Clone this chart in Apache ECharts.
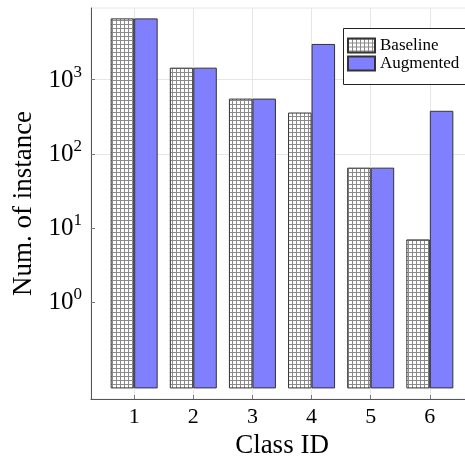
<!DOCTYPE html>
<html><head><meta charset="utf-8">
<script src="https://cdn.jsdelivr.net/npm/echarts@6/dist/echarts.min.js"></script>
<style>html,body{margin:0;padding:0;background:#fff}#c{width:465px;height:457px}</style>
</head><body><div id="c"></div>
<script>
const classIds = [1, 2, 3, 4, 5, 6];
const baselineCounts = [6700, 1450, 555, 360, 65, 7];
const augmentedCounts = [6700, 1450, 555, 3030, 65, 380];
const seriesNames = ['Baseline', 'Augmented'];
const yTickExponents = [0, 1, 2, 3];
const yTickValues = [1, 10, 100, 1000];
const barFloor = 0.0685;
const yRange = [0.0493, 9250];
const xRange = [0.27, 6.73];

const pat = document.createElement('canvas');
pat.width = 4; pat.height = 4;
const g = pat.getContext('2d');
g.fillStyle = '#fff'; g.fillRect(0, 0, 4, 4);
g.fillStyle = '#8a8a8a'; g.fillRect(0, 0, 4, 1); g.fillRect(0, 0, 1, 4);

const serif = 'Liberation Serif';
const chart = echarts.init(document.getElementById('c'), null, {renderer: 'canvas'});
chart.setOption({
  animation: false,
  backgroundColor: '#fff',
  grid: {left: 91, top: 8, width: 382, bottom: 58, outerBoundsMode: 'none', containLabel: false,
         show: true, borderColor: '#e6e6e6', borderWidth: 1},
  graphic: [{
    type: 'rect', left: 343, top: 28, z: 3, silent: true,
    shape: {width: 160, height: 56},
    style: {fill: '#fff', stroke: '#222', lineWidth: 1}
  }],
  legend: {
    orient: 'vertical', left: 343, top: 28, icon: 'rect', itemWidth: 27, itemHeight: 14, itemGap: 1,
    padding: [9, 4, 11, 4], z: 4,
    selectedMode: false,
    textStyle: {fontFamily: serif, fontSize: 17, color: '#000', lineHeight: 17},
    data: seriesNames
  },
  xAxis: {
    type: 'value', min: xRange[0], max: xRange[1],
    name: 'Class ID', nameLocation: 'middle', nameGap: 27,
    nameTextStyle: {fontFamily: serif, fontSize: 27, color: '#000'},
    axisLine: {show: true, lineStyle: {color: '#555', width: 1}},
    axisTick: {show: true, inside: true, length: 4, lineStyle: {color: '#777'}},
    axisLabel: {
      margin: 7, fontFamily: serif, fontSize: 22, color: '#000', showMinLabel: false, showMaxLabel: false,
      formatter: function (v) { return classIds.indexOf(v) >= 0 ? String(v) : ''; }
    },
    splitLine: {show: true, lineStyle: {color: '#e6e6e6', width: 1}}
  },
  yAxis: {
    type: 'log', logBase: 10, min: yRange[0], max: yRange[1], startValue: barFloor,
    name: 'Num. of instance', nameLocation: 'middle', nameGap: 49,
    nameTextStyle: {fontFamily: serif, fontSize: 27, color: '#000'},
    axisLine: {show: true, lineStyle: {color: '#555', width: 1}},
    axisTick: {show: true, inside: true, length: 4, customValues: yTickValues, lineStyle: {color: '#777'}},
    axisLabel: {
      margin: 9, color: '#000',
      formatter: function (v) {
        const e = Math.log10(v), r = Math.round(e);
        if (Math.abs(e - r) < 1e-6 && yTickExponents.indexOf(r) >= 0) return '{b|10}{s|' + r + '}';
        return '';
      },
      rich: {
        b: {fontFamily: serif, fontSize: 25, lineHeight: 26, verticalAlign: 'bottom', color: '#000'},
        s: {fontFamily: serif, fontSize: 17, lineHeight: 16, padding: [0, 0, 12, 0], verticalAlign: 'bottom', color: '#000'}
      }
    },
    splitLine: {show: true, lineStyle: {color: ['rgba(0,0,0,0)', 'rgba(0,0,0,0)', '#e6e6e6', '#e6e6e6', '#e6e6e6', '#e6e6e6', '#e6e6e6']}}
  },
  series: [
    {
      name: seriesNames[0], type: 'bar', barWidth: 23.5, barGap: '0%',
      data: classIds.map((c, i) => [c, baselineCounts[i]]),
      itemStyle: {color: {image: pat, repeat: 'repeat'}, borderColor: '#333', borderWidth: 1}
    },
    {
      name: seriesNames[1], type: 'bar', barWidth: 23.5, barGap: '0%',
      data: classIds.map((c, i) => [c, augmentedCounts[i]]),
      itemStyle: {color: '#8080ff', borderColor: '#333', borderWidth: 1}
    }
  ]
});
</script></body></html>
